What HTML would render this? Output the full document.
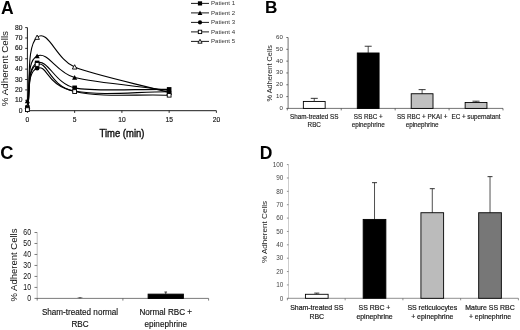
<!DOCTYPE html>
<html><head><meta charset="utf-8"><title>Figure</title>
<style>
html,body{margin:0;padding:0;background:#fff;}
svg{display:block;font-family:"Liberation Sans", Arial, sans-serif;}
</style></head><body>
<svg width="520" height="330" viewBox="0 0 520 330">
<defs><filter id="soft" x="0" y="0" width="100%" height="100%" filterUnits="userSpaceOnUse"><feGaussianBlur stdDeviation="0.35"/></filter></defs>
<rect width="520" height="330" fill="#fff"/>
<g filter="url(#soft)">
<text x="1.00" y="13.60" font-size="17.5" text-anchor="start" font-weight="bold" fill="#000" >A</text>
<text x="265.00" y="12.60" font-size="17.2" text-anchor="start" font-weight="bold" fill="#000" >B</text>
<text x="0.20" y="159.00" font-size="18.3" text-anchor="start" font-weight="bold" fill="#000" >C</text>
<text x="259.70" y="158.90" font-size="17.5" text-anchor="start" font-weight="bold" fill="#000" >D</text>
<line x1="27.40" y1="27.58" x2="27.40" y2="110.70" stroke="#000" stroke-width="0.9"/>
<line x1="27.40" y1="110.70" x2="216.40" y2="110.70" stroke="#000" stroke-width="0.9"/>
<line x1="25.20" y1="110.70" x2="27.40" y2="110.70" stroke="#000" stroke-width="0.8"/>
<text x="22.40" y="112.70" font-size="6.7" text-anchor="end" font-weight="normal" fill="#111" stroke="#111" stroke-width="0.15">0</text>
<line x1="25.20" y1="100.31" x2="27.40" y2="100.31" stroke="#000" stroke-width="0.8"/>
<text x="22.40" y="102.31" font-size="6.7" text-anchor="end" font-weight="normal" fill="#111" stroke="#111" stroke-width="0.15">10</text>
<line x1="25.20" y1="89.92" x2="27.40" y2="89.92" stroke="#000" stroke-width="0.8"/>
<text x="22.40" y="91.92" font-size="6.7" text-anchor="end" font-weight="normal" fill="#111" stroke="#111" stroke-width="0.15">20</text>
<line x1="25.20" y1="79.53" x2="27.40" y2="79.53" stroke="#000" stroke-width="0.8"/>
<text x="22.40" y="81.53" font-size="6.7" text-anchor="end" font-weight="normal" fill="#111" stroke="#111" stroke-width="0.15">30</text>
<line x1="25.20" y1="69.14" x2="27.40" y2="69.14" stroke="#000" stroke-width="0.8"/>
<text x="22.40" y="71.14" font-size="6.7" text-anchor="end" font-weight="normal" fill="#111" stroke="#111" stroke-width="0.15">40</text>
<line x1="25.20" y1="58.75" x2="27.40" y2="58.75" stroke="#000" stroke-width="0.8"/>
<text x="22.40" y="60.75" font-size="6.7" text-anchor="end" font-weight="normal" fill="#111" stroke="#111" stroke-width="0.15">50</text>
<line x1="25.20" y1="48.36" x2="27.40" y2="48.36" stroke="#000" stroke-width="0.8"/>
<text x="22.40" y="50.36" font-size="6.7" text-anchor="end" font-weight="normal" fill="#111" stroke="#111" stroke-width="0.15">60</text>
<line x1="25.20" y1="37.97" x2="27.40" y2="37.97" stroke="#000" stroke-width="0.8"/>
<text x="22.40" y="39.97" font-size="6.7" text-anchor="end" font-weight="normal" fill="#111" stroke="#111" stroke-width="0.15">70</text>
<line x1="25.20" y1="27.58" x2="27.40" y2="27.58" stroke="#000" stroke-width="0.8"/>
<text x="22.40" y="29.58" font-size="6.7" text-anchor="end" font-weight="normal" fill="#111" stroke="#111" stroke-width="0.15">80</text>
<line x1="27.40" y1="110.70" x2="27.40" y2="112.90" stroke="#000" stroke-width="0.8"/>
<text x="27.40" y="122.00" font-size="6.7" text-anchor="middle" font-weight="normal" fill="#111" stroke="#111" stroke-width="0.15">0</text>
<line x1="74.65" y1="110.70" x2="74.65" y2="112.90" stroke="#000" stroke-width="0.8"/>
<text x="74.65" y="122.00" font-size="6.7" text-anchor="middle" font-weight="normal" fill="#111" stroke="#111" stroke-width="0.15">5</text>
<line x1="121.90" y1="110.70" x2="121.90" y2="112.90" stroke="#000" stroke-width="0.8"/>
<text x="121.90" y="122.00" font-size="6.7" text-anchor="middle" font-weight="normal" fill="#111" stroke="#111" stroke-width="0.15">10</text>
<line x1="169.15" y1="110.70" x2="169.15" y2="112.90" stroke="#000" stroke-width="0.8"/>
<text x="169.15" y="122.00" font-size="6.7" text-anchor="middle" font-weight="normal" fill="#111" stroke="#111" stroke-width="0.15">15</text>
<line x1="216.40" y1="110.70" x2="216.40" y2="112.90" stroke="#000" stroke-width="0.8"/>
<text x="216.40" y="122.00" font-size="6.7" text-anchor="middle" font-weight="normal" fill="#111" stroke="#111" stroke-width="0.15">20</text>
<text transform="translate(7.60,68.60) rotate(-90)" font-size="9.8" text-anchor="middle" font-weight="normal" fill="#111">% Adherent Cells</text>
<text transform="translate(122.00,137.00) scale(0.93,1)" font-size="10.2" text-anchor="middle" font-weight="normal" fill="#111" stroke="#111" stroke-width="0.4">Time (min)</text>
<path d="M27.40,107.58 C30.64,92.69 26.27,67.45 37.13,62.91 C48.00,58.37 54.85,83.87 74.65,87.84 C94.45,91.82 137.65,88.88 169.15,89.40" fill="none" stroke="#000" stroke-width="1.1"/>
<path d="M27.40,100.83 C30.64,85.90 26.27,61.40 37.13,56.05 C48.00,50.70 56.17,72.74 74.65,77.56 C93.13,82.37 137.65,86.14 169.15,90.44" fill="none" stroke="#000" stroke-width="1.1"/>
<path d="M27.40,108.62 C30.64,95.15 26.27,72.24 37.13,68.20 C48.00,64.17 45.61,85.90 74.65,91.06 C103.69,96.23 137.65,91.48 169.15,91.69" fill="none" stroke="#000" stroke-width="1.1"/>
<path d="M27.40,109.66 C30.64,94.60 26.27,68.62 37.13,64.46 C48.00,60.31 48.25,85.43 74.65,91.58 C101.05,97.73 137.65,94.01 169.15,95.22" fill="none" stroke="#000" stroke-width="1.1"/>
<path d="M27.40,106.54 C30.64,83.48 26.27,46.43 37.13,37.35 C48.00,28.27 56.17,59.34 74.65,67.06 C93.13,74.79 137.65,84.03 169.15,92.52" fill="none" stroke="#000" stroke-width="1.1"/>
<path d="M27.40,104.24 L29.70,108.54 L25.10,108.54Z" fill="#fff" stroke="#000" stroke-width="0.9"/>
<rect x="25.10" y="105.28" width="4.6" height="4.6" fill="#000"/>
<circle cx="27.40" cy="108.62" r="2.3" fill="#000"/>
<rect x="25.50" y="107.76" width="3.8" height="3.8" fill="#fff" stroke="#000" stroke-width="0.9"/>
<path d="M27.40,98.23 L30.00,103.13 L24.80,103.13Z" fill="#000"/>
<rect x="34.83" y="60.61" width="4.6" height="4.6" fill="#000"/>
<path d="M37.13,53.45 L39.73,58.35 L34.53,58.35Z" fill="#000"/>
<circle cx="37.13" cy="68.20" r="2.3" fill="#000"/>
<rect x="35.23" y="62.56" width="3.8" height="3.8" fill="#fff" stroke="#000" stroke-width="0.9"/>
<path d="M37.13,35.05 L39.43,39.35 L34.83,39.35Z" fill="#fff" stroke="#000" stroke-width="0.9"/>
<rect x="72.35" y="85.54" width="4.6" height="4.6" fill="#000"/>
<path d="M74.65,74.96 L77.25,79.86 L72.05,79.86Z" fill="#000"/>
<circle cx="74.65" cy="91.06" r="2.3" fill="#000"/>
<rect x="72.75" y="89.68" width="3.8" height="3.8" fill="#fff" stroke="#000" stroke-width="0.9"/>
<path d="M74.65,64.76 L76.95,69.06 L72.35,69.06Z" fill="#fff" stroke="#000" stroke-width="0.9"/>
<path d="M169.15,90.22 L171.45,94.52 L166.85,94.52Z" fill="#fff" stroke="#000" stroke-width="0.9"/>
<rect x="167.25" y="93.32" width="3.8" height="3.8" fill="#fff" stroke="#000" stroke-width="0.9"/>
<circle cx="169.15" cy="91.69" r="2.3" fill="#000"/>
<rect x="166.85" y="87.10" width="4.6" height="4.6" fill="#000"/>
<path d="M169.15,87.84 L171.75,92.74 L166.55,92.74Z" fill="#000"/>
<line x1="191.00" y1="3.40" x2="209.00" y2="3.40" stroke="#000" stroke-width="0.9"/>
<rect x="197.90" y="1.30" width="4.2" height="4.2" fill="#000"/>
<text x="211.00" y="5.20" font-size="6.1" text-anchor="start" font-weight="normal" fill="#333" >Patient 1</text>
<line x1="191.00" y1="12.90" x2="209.00" y2="12.90" stroke="#000" stroke-width="0.9"/>
<path d="M200.00,10.50 L202.40,15.00 L197.60,15.00Z" fill="#000"/>
<text x="211.00" y="14.70" font-size="6.1" text-anchor="start" font-weight="normal" fill="#333" >Patient 2</text>
<line x1="191.00" y1="22.40" x2="209.00" y2="22.40" stroke="#000" stroke-width="0.9"/>
<circle cx="200.00" cy="22.40" r="2.1" fill="#000"/>
<text x="211.00" y="24.20" font-size="6.1" text-anchor="start" font-weight="normal" fill="#333" >Patient 3</text>
<line x1="191.00" y1="31.90" x2="209.00" y2="31.90" stroke="#000" stroke-width="0.9"/>
<rect x="198.30" y="30.20" width="3.4000000000000004" height="3.4000000000000004" fill="#fff" stroke="#000" stroke-width="0.9"/>
<text x="211.00" y="33.70" font-size="6.1" text-anchor="start" font-weight="normal" fill="#333" >Patient 4</text>
<line x1="191.00" y1="41.40" x2="209.00" y2="41.40" stroke="#000" stroke-width="0.9"/>
<path d="M200.00,39.30 L202.10,43.20 L197.90,43.20Z" fill="#fff" stroke="#000" stroke-width="0.9"/>
<text x="211.00" y="43.20" font-size="6.1" text-anchor="start" font-weight="normal" fill="#333" >Patient 5</text>
<line x1="288.10" y1="37.50" x2="288.10" y2="108.40" stroke="#444" stroke-width="0.75"/>
<line x1="287.80" y1="108.40" x2="503.00" y2="108.40" stroke="#444" stroke-width="0.75"/>
<line x1="286.30" y1="108.40" x2="288.10" y2="108.40" stroke="#444" stroke-width="0.75"/>
<text x="282.80" y="109.90" font-size="6.1" text-anchor="end" font-weight="normal" fill="#333" >0</text>
<line x1="286.30" y1="96.58" x2="288.10" y2="96.58" stroke="#444" stroke-width="0.75"/>
<text x="282.80" y="98.08" font-size="6.1" text-anchor="end" font-weight="normal" fill="#333" >10</text>
<line x1="286.30" y1="84.77" x2="288.10" y2="84.77" stroke="#444" stroke-width="0.75"/>
<text x="282.80" y="86.26" font-size="6.1" text-anchor="end" font-weight="normal" fill="#333" >20</text>
<line x1="286.30" y1="72.95" x2="288.10" y2="72.95" stroke="#444" stroke-width="0.75"/>
<text x="282.80" y="74.45" font-size="6.1" text-anchor="end" font-weight="normal" fill="#333" >30</text>
<line x1="286.30" y1="61.13" x2="288.10" y2="61.13" stroke="#444" stroke-width="0.75"/>
<text x="282.80" y="62.63" font-size="6.1" text-anchor="end" font-weight="normal" fill="#333" >40</text>
<line x1="286.30" y1="49.32" x2="288.10" y2="49.32" stroke="#444" stroke-width="0.75"/>
<text x="282.80" y="50.81" font-size="6.1" text-anchor="end" font-weight="normal" fill="#333" >50</text>
<line x1="286.30" y1="37.50" x2="288.10" y2="37.50" stroke="#444" stroke-width="0.75"/>
<text x="282.80" y="39.00" font-size="6.1" text-anchor="end" font-weight="normal" fill="#333" >60</text>
<line x1="287.30" y1="108.40" x2="287.30" y2="110.40" stroke="#444" stroke-width="0.75"/>
<line x1="341.23" y1="108.40" x2="341.23" y2="110.40" stroke="#444" stroke-width="0.75"/>
<line x1="395.15" y1="108.40" x2="395.15" y2="110.40" stroke="#444" stroke-width="0.75"/>
<line x1="449.07" y1="108.40" x2="449.07" y2="110.40" stroke="#444" stroke-width="0.75"/>
<line x1="503.00" y1="108.40" x2="503.00" y2="110.40" stroke="#444" stroke-width="0.75"/>
<text transform="translate(271.60,73.30) rotate(-90)" font-size="7.35" text-anchor="middle" font-weight="normal" fill="#1a1a1a">% Adherent Cells</text>
<line x1="314.26" y1="101.43" x2="314.26" y2="98.36" stroke="#222" stroke-width="0.8"/>
<line x1="310.76" y1="98.36" x2="317.76" y2="98.36" stroke="#222" stroke-width="0.9"/>
<rect x="303.36" y="101.43" width="21.80" height="6.97" fill="#fff" stroke="#000" stroke-width="0.9"/>
<text x="314.26" y="118.90" font-size="6.3" text-anchor="middle" font-weight="normal" fill="#1a1a1a" stroke="#1a1a1a" stroke-width="0.15">Sham-treated SS</text>
<text x="314.26" y="126.90" font-size="6.3" text-anchor="middle" font-weight="normal" fill="#1a1a1a" stroke="#1a1a1a" stroke-width="0.15">RBC</text>
<line x1="368.19" y1="52.98" x2="368.19" y2="46.24" stroke="#222" stroke-width="0.8"/>
<line x1="364.69" y1="46.24" x2="371.69" y2="46.24" stroke="#222" stroke-width="0.9"/>
<rect x="357.29" y="52.98" width="21.80" height="55.42" fill="#000" stroke="#000" stroke-width="0.9"/>
<text x="368.19" y="118.90" font-size="6.3" text-anchor="middle" font-weight="normal" fill="#1a1a1a" stroke="#1a1a1a" stroke-width="0.15">SS RBC +</text>
<text x="368.19" y="126.90" font-size="6.3" text-anchor="middle" font-weight="normal" fill="#1a1a1a" stroke="#1a1a1a" stroke-width="0.15">epinephrine</text>
<line x1="422.11" y1="93.75" x2="422.11" y2="89.61" stroke="#222" stroke-width="0.8"/>
<line x1="418.61" y1="89.61" x2="425.61" y2="89.61" stroke="#222" stroke-width="0.9"/>
<rect x="411.21" y="93.75" width="21.80" height="14.65" fill="#c0c0c0" stroke="#000" stroke-width="0.9"/>
<text x="422.11" y="118.90" font-size="6.3" text-anchor="middle" font-weight="normal" fill="#1a1a1a" stroke="#1a1a1a" stroke-width="0.15">SS RBC + PKAI +</text>
<text x="422.11" y="126.90" font-size="6.3" text-anchor="middle" font-weight="normal" fill="#1a1a1a" stroke="#1a1a1a" stroke-width="0.15">epinephrine</text>
<line x1="476.04" y1="102.49" x2="476.04" y2="101.19" stroke="#222" stroke-width="0.8"/>
<line x1="472.54" y1="101.19" x2="479.54" y2="101.19" stroke="#222" stroke-width="0.9"/>
<rect x="465.14" y="102.49" width="21.80" height="5.91" fill="#c0c0c0" stroke="#000" stroke-width="0.9"/>
<text x="476.04" y="118.90" font-size="6.3" text-anchor="middle" font-weight="normal" fill="#1a1a1a" stroke="#1a1a1a" stroke-width="0.15">EC + supernatant</text>
<line x1="37.20" y1="232.50" x2="37.20" y2="298.40" stroke="#aaa" stroke-width="0.75"/>
<line x1="36.90" y1="298.40" x2="208.60" y2="298.40" stroke="#505050" stroke-width="0.75"/>
<line x1="34.50" y1="298.40" x2="37.20" y2="298.40" stroke="#505050" stroke-width="0.75"/>
<text transform="translate(31.00,300.73) scale(0.8,1)" font-size="8.7" text-anchor="end" font-weight="normal" fill="#111" >0</text>
<line x1="34.50" y1="287.42" x2="37.20" y2="287.42" stroke="#505050" stroke-width="0.75"/>
<text transform="translate(31.00,289.75) scale(0.8,1)" font-size="8.7" text-anchor="end" font-weight="normal" fill="#111" >10</text>
<line x1="34.50" y1="276.43" x2="37.20" y2="276.43" stroke="#505050" stroke-width="0.75"/>
<text transform="translate(31.00,278.77) scale(0.8,1)" font-size="8.7" text-anchor="end" font-weight="normal" fill="#111" >20</text>
<line x1="34.50" y1="265.45" x2="37.20" y2="265.45" stroke="#505050" stroke-width="0.75"/>
<text transform="translate(31.00,267.78) scale(0.8,1)" font-size="8.7" text-anchor="end" font-weight="normal" fill="#111" >30</text>
<line x1="34.50" y1="254.47" x2="37.20" y2="254.47" stroke="#505050" stroke-width="0.75"/>
<text transform="translate(31.00,256.80) scale(0.8,1)" font-size="8.7" text-anchor="end" font-weight="normal" fill="#111" >40</text>
<line x1="34.50" y1="243.48" x2="37.20" y2="243.48" stroke="#505050" stroke-width="0.75"/>
<text transform="translate(31.00,245.82) scale(0.8,1)" font-size="8.7" text-anchor="end" font-weight="normal" fill="#111" >50</text>
<line x1="34.50" y1="232.50" x2="37.20" y2="232.50" stroke="#505050" stroke-width="0.75"/>
<text transform="translate(31.00,234.83) scale(0.8,1)" font-size="8.7" text-anchor="end" font-weight="normal" fill="#111" >60</text>
<line x1="37.20" y1="298.40" x2="37.20" y2="300.60" stroke="#505050" stroke-width="0.75"/>
<line x1="122.90" y1="298.40" x2="122.90" y2="300.60" stroke="#505050" stroke-width="0.75"/>
<line x1="208.60" y1="298.40" x2="208.60" y2="300.60" stroke="#505050" stroke-width="0.75"/>
<text transform="translate(17.00,265.00) rotate(-90)" font-size="9.5" text-anchor="middle" font-weight="normal" fill="#111">% Adherent Cells</text>
<line x1="80.05" y1="298.07" x2="80.05" y2="297.74" stroke="#222" stroke-width="0.8"/>
<line x1="78.75" y1="297.74" x2="81.35" y2="297.74" stroke="#222" stroke-width="0.9"/>
<line x1="77.55" y1="297.80" x2="82.55" y2="297.80" stroke="#777" stroke-width="0.8"/>
<text transform="translate(80.05,315.00) scale(0.935,1)" font-size="8.7" text-anchor="middle" font-weight="normal" fill="#111" stroke="#111" stroke-width="0.15">Sham-treated normal</text>
<text transform="translate(80.05,326.80) scale(0.935,1)" font-size="8.7" text-anchor="middle" font-weight="normal" fill="#111" stroke="#111" stroke-width="0.15">RBC</text>
<line x1="165.75" y1="294.12" x2="165.75" y2="292.03" stroke="#222" stroke-width="0.8"/>
<line x1="164.45" y1="292.03" x2="167.05" y2="292.03" stroke="#222" stroke-width="0.9"/>
<rect x="148.10" y="294.12" width="35.30" height="4.28" fill="#000" stroke="#000" stroke-width="0.9"/>
<text transform="translate(165.75,315.00) scale(0.935,1)" font-size="8.7" text-anchor="middle" font-weight="normal" fill="#111" stroke="#111" stroke-width="0.15">Normal RBC +</text>
<text transform="translate(165.75,326.80) scale(0.935,1)" font-size="8.7" text-anchor="middle" font-weight="normal" fill="#111" stroke="#111" stroke-width="0.15">epinephrine</text>
<line x1="288.50" y1="164.60" x2="288.50" y2="298.30" stroke="#b8b8b8" stroke-width="0.7"/>
<line x1="288.20" y1="298.30" x2="518.40" y2="298.30" stroke="#606060" stroke-width="0.7"/>
<line x1="286.90" y1="298.30" x2="288.50" y2="298.30" stroke="#606060" stroke-width="0.7"/>
<text x="283.30" y="300.60" font-size="6.4" text-anchor="end" font-weight="normal" fill="#444" >0</text>
<line x1="286.90" y1="284.93" x2="288.50" y2="284.93" stroke="#606060" stroke-width="0.7"/>
<text x="283.30" y="287.23" font-size="6.4" text-anchor="end" font-weight="normal" fill="#444" >10</text>
<line x1="286.90" y1="271.56" x2="288.50" y2="271.56" stroke="#606060" stroke-width="0.7"/>
<text x="283.30" y="273.86" font-size="6.4" text-anchor="end" font-weight="normal" fill="#444" >20</text>
<line x1="286.90" y1="258.19" x2="288.50" y2="258.19" stroke="#606060" stroke-width="0.7"/>
<text x="283.30" y="260.49" font-size="6.4" text-anchor="end" font-weight="normal" fill="#444" >30</text>
<line x1="286.90" y1="244.82" x2="288.50" y2="244.82" stroke="#606060" stroke-width="0.7"/>
<text x="283.30" y="247.12" font-size="6.4" text-anchor="end" font-weight="normal" fill="#444" >40</text>
<line x1="286.90" y1="231.45" x2="288.50" y2="231.45" stroke="#606060" stroke-width="0.7"/>
<text x="283.30" y="233.75" font-size="6.4" text-anchor="end" font-weight="normal" fill="#444" >50</text>
<line x1="286.90" y1="218.08" x2="288.50" y2="218.08" stroke="#606060" stroke-width="0.7"/>
<text x="283.30" y="220.38" font-size="6.4" text-anchor="end" font-weight="normal" fill="#444" >60</text>
<line x1="286.90" y1="204.71" x2="288.50" y2="204.71" stroke="#606060" stroke-width="0.7"/>
<text x="283.30" y="207.01" font-size="6.4" text-anchor="end" font-weight="normal" fill="#444" >70</text>
<line x1="286.90" y1="191.34" x2="288.50" y2="191.34" stroke="#606060" stroke-width="0.7"/>
<text x="283.30" y="193.64" font-size="6.4" text-anchor="end" font-weight="normal" fill="#444" >80</text>
<line x1="286.90" y1="177.97" x2="288.50" y2="177.97" stroke="#606060" stroke-width="0.7"/>
<text x="283.30" y="180.27" font-size="6.4" text-anchor="end" font-weight="normal" fill="#444" >90</text>
<line x1="286.90" y1="164.60" x2="288.50" y2="164.60" stroke="#606060" stroke-width="0.7"/>
<text x="283.30" y="166.90" font-size="6.4" text-anchor="end" font-weight="normal" fill="#444" >100</text>
<line x1="287.40" y1="298.30" x2="287.40" y2="300.30" stroke="#606060" stroke-width="0.7"/>
<line x1="345.15" y1="298.30" x2="345.15" y2="300.30" stroke="#606060" stroke-width="0.7"/>
<line x1="402.90" y1="298.30" x2="402.90" y2="300.30" stroke="#606060" stroke-width="0.7"/>
<line x1="460.65" y1="298.30" x2="460.65" y2="300.30" stroke="#606060" stroke-width="0.7"/>
<line x1="518.40" y1="298.30" x2="518.40" y2="300.30" stroke="#606060" stroke-width="0.7"/>
<text transform="translate(266.80,232.00) rotate(-90)" font-size="8.1" text-anchor="middle" font-weight="normal" fill="#1a1a1a">% Adherent Cells</text>
<line x1="316.77" y1="294.29" x2="316.77" y2="293.09" stroke="#222" stroke-width="0.8"/>
<line x1="314.27" y1="293.09" x2="319.27" y2="293.09" stroke="#222" stroke-width="0.9"/>
<rect x="305.42" y="294.29" width="22.70" height="4.01" fill="#fff" stroke="#000" stroke-width="0.9"/>
<text x="316.77" y="310.10" font-size="6.95" text-anchor="middle" font-weight="normal" fill="#1a1a1a" stroke="#1a1a1a" stroke-width="0.2">Sham-treated SS</text>
<text x="316.77" y="318.80" font-size="6.95" text-anchor="middle" font-weight="normal" fill="#1a1a1a" stroke="#1a1a1a" stroke-width="0.2">RBC</text>
<line x1="374.52" y1="219.42" x2="374.52" y2="182.65" stroke="#222" stroke-width="0.8"/>
<line x1="372.02" y1="182.65" x2="377.02" y2="182.65" stroke="#222" stroke-width="0.9"/>
<rect x="363.17" y="219.42" width="22.70" height="78.88" fill="#000" stroke="#000" stroke-width="0.9"/>
<text x="374.52" y="310.10" font-size="6.95" text-anchor="middle" font-weight="normal" fill="#1a1a1a" stroke="#1a1a1a" stroke-width="0.2">SS RBC +</text>
<text x="374.52" y="318.80" font-size="6.95" text-anchor="middle" font-weight="normal" fill="#1a1a1a" stroke="#1a1a1a" stroke-width="0.2">epinephrine</text>
<line x1="432.27" y1="212.73" x2="432.27" y2="188.67" stroke="#222" stroke-width="0.8"/>
<line x1="429.77" y1="188.67" x2="434.77" y2="188.67" stroke="#222" stroke-width="0.9"/>
<rect x="420.92" y="212.73" width="22.70" height="85.57" fill="#bbb" stroke="#000" stroke-width="0.9"/>
<text x="432.27" y="310.10" font-size="6.95" text-anchor="middle" font-weight="normal" fill="#1a1a1a" stroke="#1a1a1a" stroke-width="0.2">SS reticulocytes</text>
<text x="432.27" y="318.80" font-size="6.95" text-anchor="middle" font-weight="normal" fill="#1a1a1a" stroke="#1a1a1a" stroke-width="0.2">+ epinephrine</text>
<line x1="490.02" y1="212.73" x2="490.02" y2="176.63" stroke="#222" stroke-width="0.8"/>
<line x1="487.52" y1="176.63" x2="492.52" y2="176.63" stroke="#222" stroke-width="0.9"/>
<rect x="478.67" y="212.73" width="22.70" height="85.57" fill="#777" stroke="#000" stroke-width="0.9"/>
<text x="490.02" y="310.10" font-size="6.95" text-anchor="middle" font-weight="normal" fill="#1a1a1a" stroke="#1a1a1a" stroke-width="0.2">Mature SS RBC</text>
<text x="490.02" y="318.80" font-size="6.95" text-anchor="middle" font-weight="normal" fill="#1a1a1a" stroke="#1a1a1a" stroke-width="0.2">+ epinephrine</text>
</g>
</svg>
</body></html>
